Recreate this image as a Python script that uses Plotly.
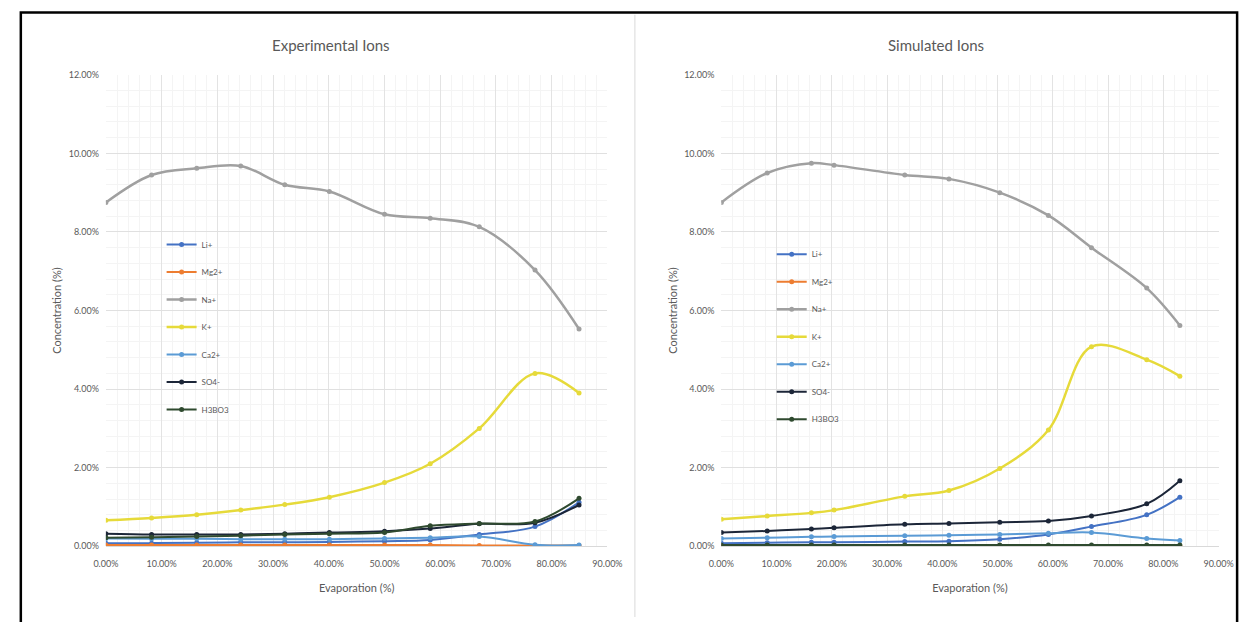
import plotly.graph_objects as go

# Ion names, shared by both panels
ions = ["Li+", "Mg2+", "Na+", "K+", "Ca2+", "SO4-", "H3BO3"]
ion_colors = ["#4472C4", "#ED7D31", "#A0A0A0", "#E6DA3A", "#5B9BD5", "#1C2638", "#2F4A2F"]

# Experimental ions: evaporation (%) vs concentration (%)
exp_evap = [0, 8.2, 16.3, 24.2, 32.1, 40.1, 50.0, 58.2, 67.0, 77.0, 84.9]
exp_li = [0.08, 0.08, 0.09, 0.10, 0.10, 0.11, 0.13, 0.16, 0.30, 0.50, 1.12]
exp_mg = [0.03, 0.03, 0.03, 0.03, 0.03, 0.03, 0.03, 0.03, 0.02, 0.02, 0.02]
exp_na = [8.75, 9.45, 9.62, 9.68, 9.20, 9.03, 8.45, 8.35, 8.13, 7.03, 5.53]
exp_k = [0.66, 0.72, 0.80, 0.92, 1.06, 1.25, 1.62, 2.10, 3.00, 4.40, 3.90]
exp_ca = [0.20, 0.19, 0.19, 0.18, 0.18, 0.18, 0.20, 0.22, 0.25, 0.04, 0.03]
exp_so4 = [0.32, 0.30, 0.30, 0.30, 0.32, 0.35, 0.38, 0.45, 0.57, 0.60, 1.05]
exp_h3bo3 = [0.22, 0.23, 0.25, 0.27, 0.30, 0.32, 0.35, 0.52, 0.58, 0.63, 1.22]

# Simulated ions
sim_evap = [0, 8.3, 16.3, 20.4, 33.2, 41.2, 50.4, 59.2, 67.0, 77.0, 83.0]
sim_li = [0.08, 0.09, 0.10, 0.10, 0.12, 0.13, 0.18, 0.30, 0.50, 0.80, 1.25]
sim_mg = [0.01, 0.01, 0.01, 0.01, 0.01, 0.01, 0.01, 0.01, 0.01, 0.01, 0.01]
sim_na = [8.75, 9.50, 9.75, 9.70, 9.45, 9.35, 9.00, 8.42, 7.60, 6.57, 5.62]
sim_k = [0.69, 0.77, 0.85, 0.92, 1.27, 1.42, 1.98, 2.96, 5.08, 4.75, 4.33]
sim_ca = [0.20, 0.22, 0.24, 0.25, 0.27, 0.28, 0.30, 0.33, 0.35, 0.20, 0.15]
sim_so4 = [0.35, 0.39, 0.44, 0.47, 0.56, 0.58, 0.61, 0.64, 0.77, 1.08, 1.67]
sim_h3bo3 = [0.03, 0.03, 0.03, 0.03, 0.03, 0.03, 0.03, 0.03, 0.03, 0.03, 0.03]

panel_titles = ["Experimental Ions", "Simulated Ions"]
x_title = "Evaporation (%)"
y_title = "Concentration (%)"

W, H = 1257, 622
TXT = "#595959"
FONT = "Lato, Open Sans, sans-serif"

fig = go.Figure()

panels = [
    ("x", "y", "legend", exp_evap, [exp_li, exp_mg, exp_na, exp_k, exp_ca, exp_so4, exp_h3bo3]),
    ("x2", "y2", "legend2", sim_evap, [sim_li, sim_mg, sim_na, sim_k, sim_ca, sim_so4, sim_h3bo3]),
]
for xa, ya, leg, xs, series in panels:
    for name, color, ys in zip(ions, ion_colors, series):
        wide = name in ("K+", "Na+")
        fig.add_trace(go.Scatter(
            x=xs, y=ys, name=name, xaxis=xa, yaxis=ya, legend=leg,
            legendgroup=f"{leg}-{name}",
            mode="lines+markers",
            line=dict(color=color, width=2.5 if wide else 2, shape="spline", smoothing=1),
            marker=dict(color=color, size=5, symbol="circle"),
        ))


def px_x(v):
    return v / W


def px_y(v):
    return 1 - v / H


axis_common = dict(
    range=[0, 90], dtick=10, tickformat=".2f", ticksuffix="%",
    showgrid=True, gridcolor="#E3E3E3", gridwidth=1,
    minor=dict(dtick=2, showgrid=True, gridcolor="#F4F4F4"),
    showline=True, linecolor="#D9D9D9", linewidth=1,
    zeroline=False, ticks="", ticklabelstandoff=9,
    tickfont=dict(family=FONT, size=9, color=TXT),
    title=dict(text=x_title, font=dict(family=FONT, size=11, color=TXT), standoff=16),
    fixedrange=True,
)
yaxis_common = dict(
    range=[0, 12], dtick=2, tickformat=".2f", ticksuffix="%",
    showgrid=True, gridcolor="#E0E0E0", gridwidth=1,
    minor=dict(dtick=0.4, showgrid=True, gridcolor="#F4F4F4"),
    showline=False, zeroline=False, ticks="", ticklabelstandoff=6,
    tickfont=dict(family=FONT, size=9, color=TXT),
    title=dict(text=y_title, font=dict(family=FONT, size=11, color=TXT), standoff=4),
    fixedrange=True,
)

y_dom = [px_y(550), px_y(70)]

legend_common = dict(
    bgcolor="rgba(0,0,0,0)", borderwidth=0,
    font=dict(family=FONT, size=8, color=TXT),
    traceorder="grouped", tracegroupgap=8.5,
    itemwidth=30, xanchor="left", yanchor="top",
)

fig.update_layout(
    width=W, height=H,
    margin=dict(l=0, r=0, t=0, b=0),
    paper_bgcolor="white", plot_bgcolor="white",
    xaxis=dict(axis_common, domain=[px_x(95), px_x(608)], anchor="y"),
    yaxis=dict(yaxis_common, domain=y_dom, anchor="x"),
    xaxis2=dict(axis_common, domain=[px_x(724.5), px_x(1233)], anchor="y2"),
    yaxis2=dict(yaxis_common, domain=y_dom, anchor="x2"),
    legend=dict(legend_common, x=px_x(152), y=px_y(228)),
    legend2=dict(legend_common, x=px_x(776), y=px_y(238)),
    showlegend=True,
)

# Panel titles
for text, cx in zip(panel_titles, [325, 944]):
    fig.add_annotation(
        text=text, xref="paper", yref="paper", x=px_x(cx), y=px_y(40),
        showarrow=False, xanchor="center", yanchor="middle",
        font=dict(family=FONT, size=15, color=TXT),
    )

# Outer frame and divider between the two charts
fig.add_shape(type="rect", xref="paper", yref="paper",
              x0=px_x(8), x1=px_x(1252), y0=px_y(640), y1=px_y(6.5),
              line=dict(color="black", width=2.5), layer="above")
fig.add_shape(type="line", xref="paper", yref="paper",
              x0=px_x(636), x1=px_x(636), y0=px_y(622), y1=px_y(9),
              line=dict(color="#E6E6E6", width=1.5))

fig.write_html("out.html")
